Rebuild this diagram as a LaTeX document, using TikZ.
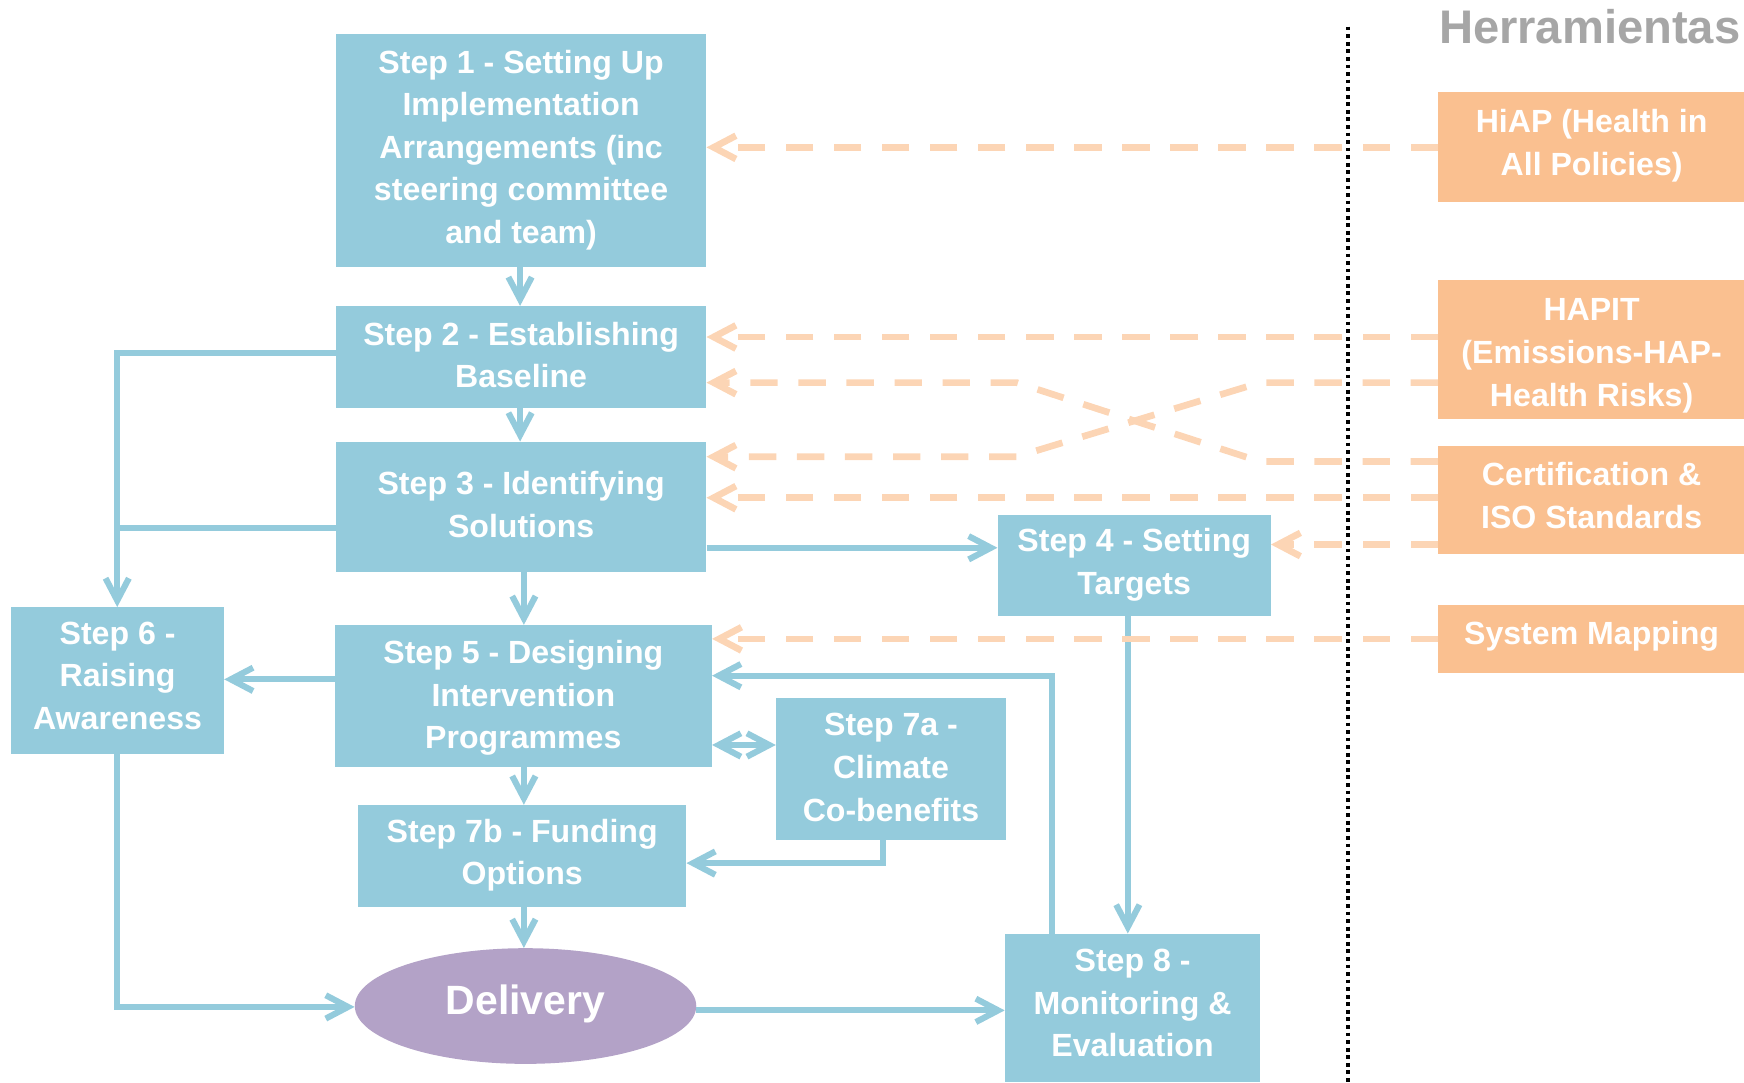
\documentclass[tikz,border=0pt]{standalone}
\usepackage{fontspec}
\setmainfont{Liberation Sans}
\usetikzlibrary{arrows.meta,shapes.geometric}
\definecolor{boxblue}{HTML}{94CBDC}
\definecolor{lineblue}{HTML}{94CBDC}
\definecolor{toolorange}{HTML}{FAC090}
\definecolor{peach}{HTML}{FCD5B5}
\definecolor{deliv}{HTML}{B3A2C7}
\definecolor{herr}{HTML}{A6A6A6}
\newcommand{\lnTop}[1][0pt]{\rule{0pt}{\dimexpr27.5pt+#1\relax}}
\newcommand{\lnBot}[1][0pt]{\rule[\dimexpr-10.8pt+#1\relax]{0pt}{\dimexpr10.8pt-#1\relax}}
\newcommand{\dtopstrut}{\rule{0pt}{29.7pt}}
\newcommand{\dbotstrut}{\rule[-14.3pt]{0pt}{14.3pt}}
\begin{document}
\begin{tikzpicture}[x=1pt,y=-1pt,
  boxtext/.style={text=white,font=\bfseries\fontsize{28.85pt}{38.3pt}\selectfont,align=center,inner sep=0pt},
  stepbox/.style={boxtext,fill=boxblue},
  toolbox/.style={boxtext,fill=toolorange},
  conn/.style={draw=lineblue,line width=5.5pt},
  flow/.style={conn,-{Straight Barb[length=20pt,width=21pt]}},
  flowboth/.style={conn,{Straight Barb[length=20pt,width=21pt]}-{Straight Barb[length=20pt,width=21pt]}},
  toolarrow/.style={draw=peach,line width=6pt,dash pattern=on 24.6pt off 18.6pt,-{Straight Barb[length=20pt,width=21pt]}},
]
\useasboundingbox (0,0) rectangle (1568,973);

% separator and heading
\draw[black,line width=3pt,dash pattern=on 3.4pt off 3.4pt] (1212,24) -- (1212,973);
\node[text=herr,font=\bfseries\fontsize{42.4pt}{50pt}\selectfont,anchor=base east,inner sep=0pt] (herr) at (1565,39.5) {Herramientas};

% step boxes
\node[stepbox,minimum width=333pt,minimum height=209pt] (s1) at (468.5,135.25) {\lnTop[-1.35pt]Step 1 - Setting Up\\Implementation\\Arrangements (inc\\steering committee\\and team)\lnBot[-1.35pt]};
\node[stepbox,minimum width=333pt,minimum height=91.5pt] (s2) at (468.5,321) {\lnTop Step 2 - Establishing\\Baseline\lnBot};
\node[stepbox,minimum width=333pt,minimum height=117pt] (s3) at (468.5,455.7) {\lnTop Step 3 - Identifying\\Solutions\lnBot};
\node[stepbox,minimum width=245.5pt,minimum height=91pt] (s4) at (1019.75,508.5) {\lnTop[-1.45pt]Step 4 - Setting\\Targets\lnBot[-1.45pt]};
\node[stepbox,minimum width=339pt,minimum height=127.6pt] (s5) at (470.5,625.8) {\lnTop[0.65pt]Step 5 - Designing\\Intervention\\Programmes\lnBot[0.65pt]};
\node[stepbox,minimum width=191.4pt,minimum height=131.8pt] (s6) at (105.7,611.9) {\lnTop[-2.85pt]Step 6 -\\Raising\\Awareness\lnBot[-2.85pt]};
\node[stepbox,minimum width=206.8pt,minimum height=127.3pt] (s7a) at (801.1,691.6) {\lnTop Step 7a -\\Climate\\Co-benefits\lnBot};
\node[stepbox,minimum width=295pt,minimum height=91.5pt] (s7b) at (469.5,769.5) {\lnTop[-1.35pt]Step 7b - Funding\\Options\lnBot[-1.35pt]};
\node[stepbox,minimum width=229.5pt,minimum height=133pt] (s8) at (1018.25,906) {\lnTop[-2.35pt]Step 8 -\\Monitoring \&\\Evaluation\lnBot[-2.35pt]};
\node[ellipse,fill=deliv,text=white,font=\bfseries\fontsize{36.8pt}{44pt}\selectfont,inner sep=0pt,minimum width=307pt,minimum height=104pt] (dl) at (472.5,904.5) {\dtopstrut Delivery\dbotstrut};

% tool boxes
\node[toolbox,minimum width=276pt,minimum height=99pt] (hiap) at (1431,132.5) {\lnTop[-2.35pt]HiAP (Health in\\All Policies)\lnBot[-2.35pt]};
\node[toolbox,minimum width=276pt,minimum height=125pt] (hapit) at (1431,314.5) {\lnTop[4pt]HAPIT\\(Emissions-HAP-\\Health Risks)\lnBot[4pt]};
\node[toolbox,minimum width=276pt,minimum height=97pt] (cert) at (1431,449.5) {\lnTop[-1.85pt]Certification \&\\ISO Standards\lnBot[-1.85pt]};
\node[toolbox,minimum width=276pt,minimum height=61.2pt] (sm) at (1431,574.4) {\lnTop[-3.25pt]System Mapping\lnBot[-3.25pt]};

% blue connectors
\coordinate (xa) at (467.6,0);
\coordinate (xb) at (471,0);
\draw[flow] (s1.south -| xa) -- (s2.north -| xa);
\draw[flow] (s2.south -| xa) -- (s3.north -| xa);
\draw[flow] (s3.south -| xb) -- (s5.north -| xb);
\draw[flow] (s5.south -| xb) -- (s7b.north -| xb);
\draw[flow] (s7b.south -| xb) -- (dl.north -| xb);

\coordinate (y34) at (0,492.5);
\draw[flow] (s3.east |- y34) -- (s4.west |- y34);
\coordinate (x48) at (1014,0);
\draw[flow] (s4.south -| x48) -- (s8.north -| x48);
\coordinate (c85) at (946,607.5);
\draw[flow] (s8.north -| c85) -- (c85) -- (s5.east |- c85);
\coordinate (y57) at (0,669.8);
\draw[flowboth] (s5.east |- y57) -- (s7a.west |- y57);
\coordinate (c7) at (794,776);
\draw[flow] (s7a.south -| c7) -- (c7) -- (s7b.east |- c7);
\coordinate (y56) at (0,610.8);
\draw[flow] (s5.west |- y56) -- (s6.east |- y56);
\coordinate (c26) at (105.4,317);
\draw[flow] (s2.west |- c26) -- (c26) -- (s6.north -| c26);
\coordinate (c36) at (105.4,475);
\draw[conn] (s3.west |- c36) -- (c36);
\coordinate (c6d) at (105.4,905.3);
\draw[flow] (s6.south -| c6d) -- (c6d) -- (dl.west |- c6d);
\coordinate (y8) at (0,908.4);
\draw[flow] (dl.east |- y8) -- (s8.west |- y8);

% tool connectors
\draw[toolarrow] (hiap.west) -- (s1.east |- hiap.west);
\coordinate (t1) at (0,303);
\draw[toolarrow] (hapit.west |- t1) -- (s2.east |- t1);
\coordinate (k1) at (1133,344);
\coordinate (k2) at (914,410.6);
\draw[toolarrow] (hapit.west |- k1) -- (k1) -- (k2) -- (s3.east |- k2);
\coordinate (k3) at (1133,415);
\coordinate (k4) at (914,344);
\draw[toolarrow] (cert.west |- k3) -- (k3) -- (k4) -- (s2.east |- k4);
\coordinate (t2) at (0,447.5);
\draw[toolarrow] (cert.west |- t2) -- (s3.east |- t2);
\coordinate (t3) at (0,489.6);
\draw[toolarrow] (cert.west |- t3) -- (s4.east |- t3);
\draw[toolarrow] (sm.west) -- (s5.east |- sm.west);
\end{tikzpicture}
\end{document}
